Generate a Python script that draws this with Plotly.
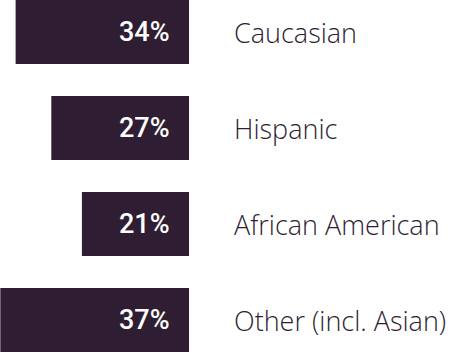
import plotly.graph_objects as go

categories = ["Caucasian", "Hispanic", "African American", "Other (incl. Asian)"]
values = [34, 27, 21, 37]
value_labels = ["34%", "27%", "21%", "37%"]

bar_color = "#2f1e33"
text_color = "#2f1e33"

fig = go.Figure()
fig.add_trace(go.Bar(
    y=categories,
    x=values,
    orientation="h",
    marker=dict(color=bar_color, line=dict(width=0)),
    hoverinfo="skip",
))

annotations = []
for cat, lab in zip(categories, value_labels):
    annotations.append(dict(
        x=0, y=cat, xref="x", yref="y", text=lab, showarrow=False,
        xanchor="right", yanchor="middle", xshift=-17,
        font=dict(family="Roboto", size=27, color="white", weight=500),
    ))
    annotations.append(dict(
        x=0, y=cat, xref="x", yref="y", text=cat, showarrow=False,
        xanchor="left", yanchor="middle", xshift=43, yshift=-1,
        font=dict(family="Open Sans", size=27, color=text_color, weight=300),
    ))

fig.update_layout(
    width=468, height=353,
    margin=dict(l=0, r=0, t=0, b=0),
    paper_bgcolor="white", plot_bgcolor="white",
    showlegend=False,
    bargap=0.333,
    xaxis=dict(range=[37.06, -54.7], visible=False, fixedrange=True),
    yaxis=dict(range=[3.344, -0.333], visible=False, fixedrange=True,
               categoryorder="array", categoryarray=categories),
    annotations=annotations,
)

fig.write_html("out.html")
